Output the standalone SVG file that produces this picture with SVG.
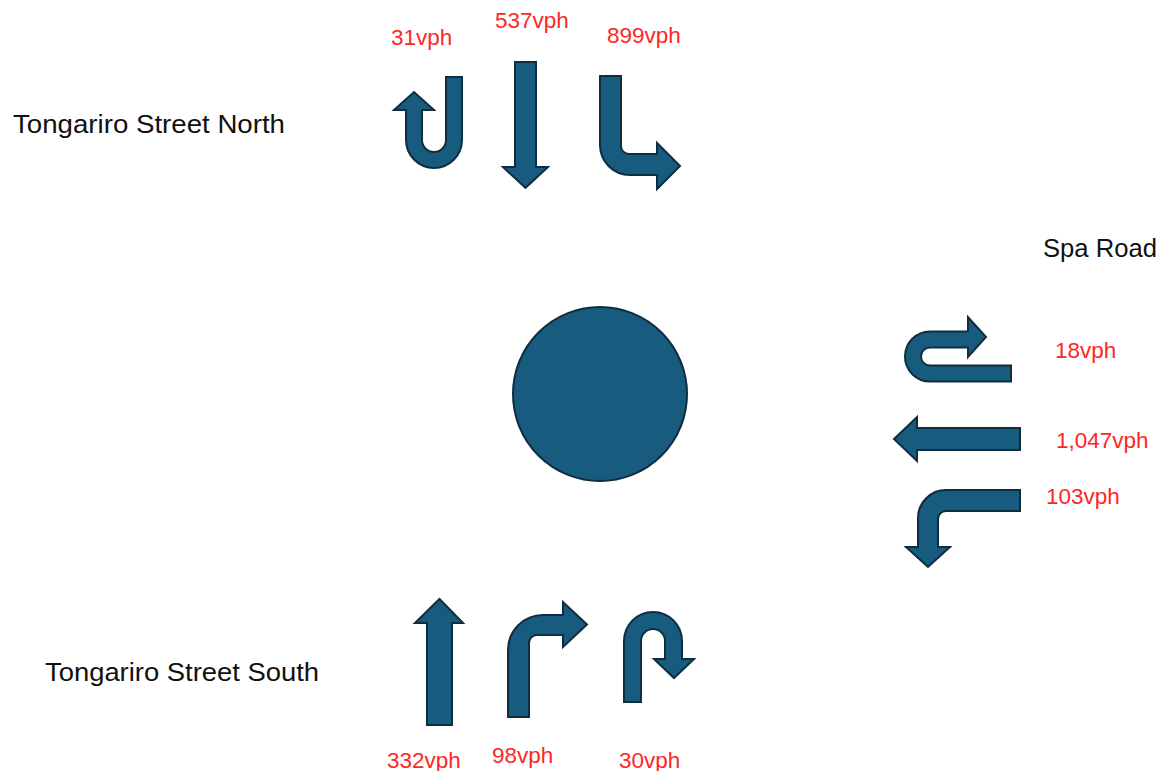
<svg xmlns="http://www.w3.org/2000/svg" width="1164" height="771" viewBox="0 0 1164 771">
<style>
.arrow{fill:#175c7e;stroke:#0e2d3e;stroke-width:2;stroke-linejoin:miter}
.vol{font-family:"Liberation Sans",Arial,sans-serif;font-size:22.5px;fill:#ff2626}
.road{font-family:"Liberation Sans",Arial,sans-serif;font-size:25px;fill:#111}
</style>
<rect width="1164" height="771" fill="#fff"/>
<g id="labels">
<text class="road" x="13" y="133" textLength="272" lengthAdjust="spacingAndGlyphs">Tongariro Street North</text>
<text class="road" x="45" y="681" textLength="274" lengthAdjust="spacingAndGlyphs">Tongariro Street South</text>
<text class="road" x="1043" y="257" textLength="114" lengthAdjust="spacingAndGlyphs">Spa Road</text>
</g>
<g id="roundabout">
<circle cx="600" cy="394" r="87" class="arrow"/>
</g>
<g id="north-uturn">
<path class="arrow" d="M446 77 L462 77 L462 140 A28 28 0 0 1 406 140 L406 110 L394 110 L414 92 L434 110 L422 110 L422 140 A12 12 0 0 0 446 140 Z"/>
<text class="vol" x="391" y="45">31vph</text>
</g>
<g id="north-through">
<path class="arrow" d="M515 62 L536 62 L536 167 L548 167 L525.5 188 L503 167 L515 167 Z"/>
<text class="vol" x="495" y="28">537vph</text>
</g>
<g id="north-left">
<path class="arrow" d="M600 76 L621 76 L621 146 A8 8 0 0 0 629 154 L657 154 L657 143 L680 166 L657 189 L657 175 L630 175 A30 30 0 0 1 600 145 Z"/>
<text class="vol" x="607" y="43">899vph</text>
</g>
<g id="east-uturn">
<path class="arrow" d="M1011 365.5 L1011 381.5 L930 381.5 A25 25 0 0 1 930 331.5 L968 331.5 L968 317 L986 337 L968 357 L968 347.5 L930 347.5 A9 9 0 0 0 930 365.5 Z"/>
<text class="vol" x="1055" y="358">18vph</text>
</g>
<g id="east-through">
<path class="arrow" d="M1020 428 L1020 450 L917 450 L917 461 L894 439 L917 417 L917 428 Z"/>
<text class="vol" x="1056" y="448">1,047vph</text>
</g>
<g id="east-left">
<path class="arrow" d="M1020 490 L1020 511 L946 511 A8 8 0 0 0 938 519 L938 547 L950 547 L928 567 L906 547 L918 547 L918 518 A28 28 0 0 1 946 490 Z"/>
<text class="vol" x="1046" y="504">103vph</text>
</g>
<g id="south-through">
<path class="arrow" d="M427 725 L452 725 L452 623 L463 623 L439.5 599 L415 623 L427 623 Z"/>
<text class="vol" x="387" y="768">332vph</text>
</g>
<g id="south-right">
<path class="arrow" d="M508 717 L529 717 L529 643 A8 8 0 0 1 537 635 L563 635 L563 647 L587 624.5 L563 602 L563 615 L543 615 A35 35 0 0 0 508 650 Z"/>
<text class="vol" x="492" y="763">98vph</text>
</g>
<g id="south-uturn">
<path class="arrow" d="M624 702 L641 702 L641 641 A12 12 0 0 1 665 641 L665 659 L654 659 L674 678 L694 659 L682 659 L682 641 A29 29 0 0 0 624 641 Z"/>
<text class="vol" x="619" y="768">30vph</text>
</g>
<g id="connectors"></g>
</svg>
